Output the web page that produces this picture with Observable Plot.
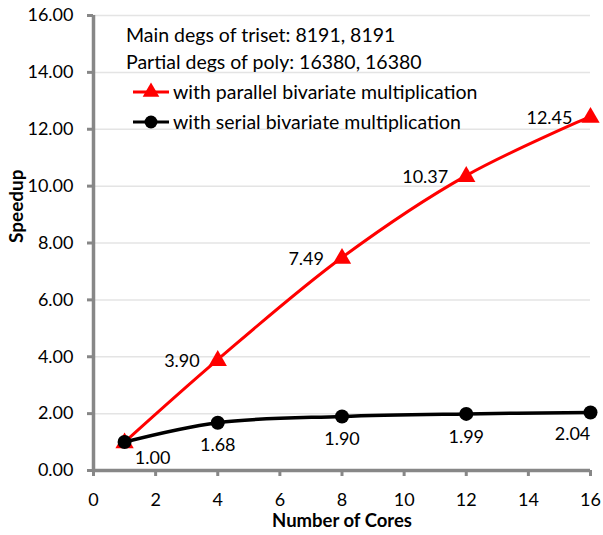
<!DOCTYPE html>
<html>
<head>
<meta charset="utf-8">
<script src="https://cdn.jsdelivr.net/npm/d3@7"></script>
<script src="https://cdn.jsdelivr.net/npm/@observablehq/plot@0.6"></script>
<style>
  html, body { margin: 0; padding: 0; background: #fff; }
  #wrap { position: relative; width: 603px; height: 535px; font-family: Lato, "Open Sans", sans-serif; }
  #legend { position: absolute; left: 126px; top: 21px; font-size: 19.5px; color: #000; }
  .row { display: flex; align-items: center; white-space: nowrap; height: 27px; }
  .row.s { margin-top: 3px; }
  .row svg { margin-left: 7px; margin-right: 4px; }
</style>
</head>
<body>
<div id="wrap"><div id="legend"></div></div>
<script>
const cores = [1, 4, 8, 12, 16];
const parallelSpeedup = [1.00, 3.90, 7.49, 10.37, 12.45];
const serialSpeedup = [1.00, 1.68, 1.90, 1.99, 2.04];
const seriesNames = ["with parallel bivariate multiplication", "with serial bivariate multiplication"];
const infoLines = ["Main degs of triset: 8191, 8191", "Partial degs of poly: 16380, 16380"];
const xTicks = [0, 2, 4, 6, 8, 10, 12, 14, 16];
const yTicks = [0, 2, 4, 6, 8, 10, 12, 14, 16];
const xLabel = "Number of Cores";
const yLabel = "Speedup";

const par = cores.map((c, i) => ({x: c, y: parallelSpeedup[i], i}));
const ser = cores.map((c, i) => ({x: c, y: serialSpeedup[i], i}));
const fmt = d3.format(".2f");
const axisColor = "#878787";
const font = "Lato, 'Open Sans', sans-serif";

const chart = Plot.plot({
  width: 603,
  height: 535,
  marginLeft: 93,
  marginRight: 13,
  marginTop: 15,
  marginBottom: 65,
  style: {fontFamily: font, fontSize: "18px", color: "#000", background: "transparent"},
  x: {domain: [0, 16]},
  y: {domain: [0, 16]},
  marks: [
    Plot.gridY(yTicks.filter(d => d > 0), {stroke: "#e4e4e4", strokeOpacity: 1, strokeWidth: 1.5}),
    Plot.axisX(xTicks, {tickSize: 6, stroke: axisColor, strokeWidth: 3, tickFormat: () => "", label: null}),
    Plot.text(xTicks, {x: d => d, frameAnchor: "bottom", dy: 35, text: d => String(d), fontSize: 18, fill: "#000"}),
    Plot.axisY(yTicks, {tickSize: 6, tickPadding: 14, stroke: axisColor, strokeWidth: 3, fill: "#000", label: null, tickFormat: fmt, fontSize: 18}),
    Plot.ruleX([0], {stroke: axisColor, strokeWidth: 3.5}),
    Plot.ruleY([0], {stroke: axisColor, strokeWidth: 3.5}),
    Plot.line(par, {x: "x", y: "y", stroke: "#ff0000", strokeWidth: 3, curve: "catmull-rom"}),
    Plot.line(ser, {x: "x", y: "y", stroke: "#000", strokeWidth: 3.5, curve: "catmull-rom"}),
    Plot.dot(par, {x: "x", y: "y", symbol: "triangle", fill: "#ff0000", r: 6.8, dy: 1}),
    Plot.dot(ser, {x: "x", y: "y", fill: "#000", r: 7}),
    Plot.text(par.filter(d => d.i > 0), {x: "x", y: "y", text: d => fmt(d.y), textAnchor: "end", dx: -18, dy: 2, fontSize: 18, fill: "#000"}),
    Plot.text(ser.filter(d => d.i === 0), {x: "x", y: "y", text: d => fmt(d.y), dx: 28, dy: 16, fontSize: 18, fill: "#000"}),
    Plot.text(ser.filter(d => d.i > 0 && d.i < 4), {x: "x", y: "y", text: d => fmt(d.y), dx: 0, dy: 23, fontSize: 18, fill: "#000"}),
    Plot.text(ser.filter(d => d.i === 4), {x: "x", y: "y", text: d => fmt(d.y), dx: -18, dy: 22, fontSize: 18, fill: "#000"}),
    Plot.text([xLabel], {frameAnchor: "bottom", dy: 56, fontWeight: "bold", fontSize: 18.5, fill: "#000"}),
    Plot.text([yLabel], {frameAnchor: "left", dx: -77, rotate: -90, fontWeight: "bold", fontSize: 19, fill: "#000"})
  ]
});
const wrap = document.getElementById("wrap");
wrap.insertBefore(chart, wrap.firstChild);

const legend = document.getElementById("legend");
infoLines.forEach(t => {
  const d = document.createElement("div");
  d.className = "row";
  d.textContent = t;
  legend.appendChild(d);
});
const colors = ["#ff0000", "#000"];
seriesNames.forEach((name, k) => {
  const row = document.createElement("div");
  row.className = "row s";
  const svg = d3.create("svg").attr("width", 36).attr("height", 20);
  svg.append("line").attr("x1", 0).attr("x2", 36).attr("y1", 10).attr("y2", 10)
    .attr("stroke", colors[k]).attr("stroke-width", 3);
  svg.append("path").attr("transform", "translate(18,10)")
    .attr("d", d3.symbol(k === 0 ? d3.symbolTriangle : d3.symbolCircle, k === 0 ? 120 : 130)())
    .attr("fill", colors[k]);
  row.appendChild(svg.node());
  const span = document.createElement("span");
  span.textContent = name;
  row.appendChild(span);
  legend.appendChild(row);
});
</script>
</body>
</html>
